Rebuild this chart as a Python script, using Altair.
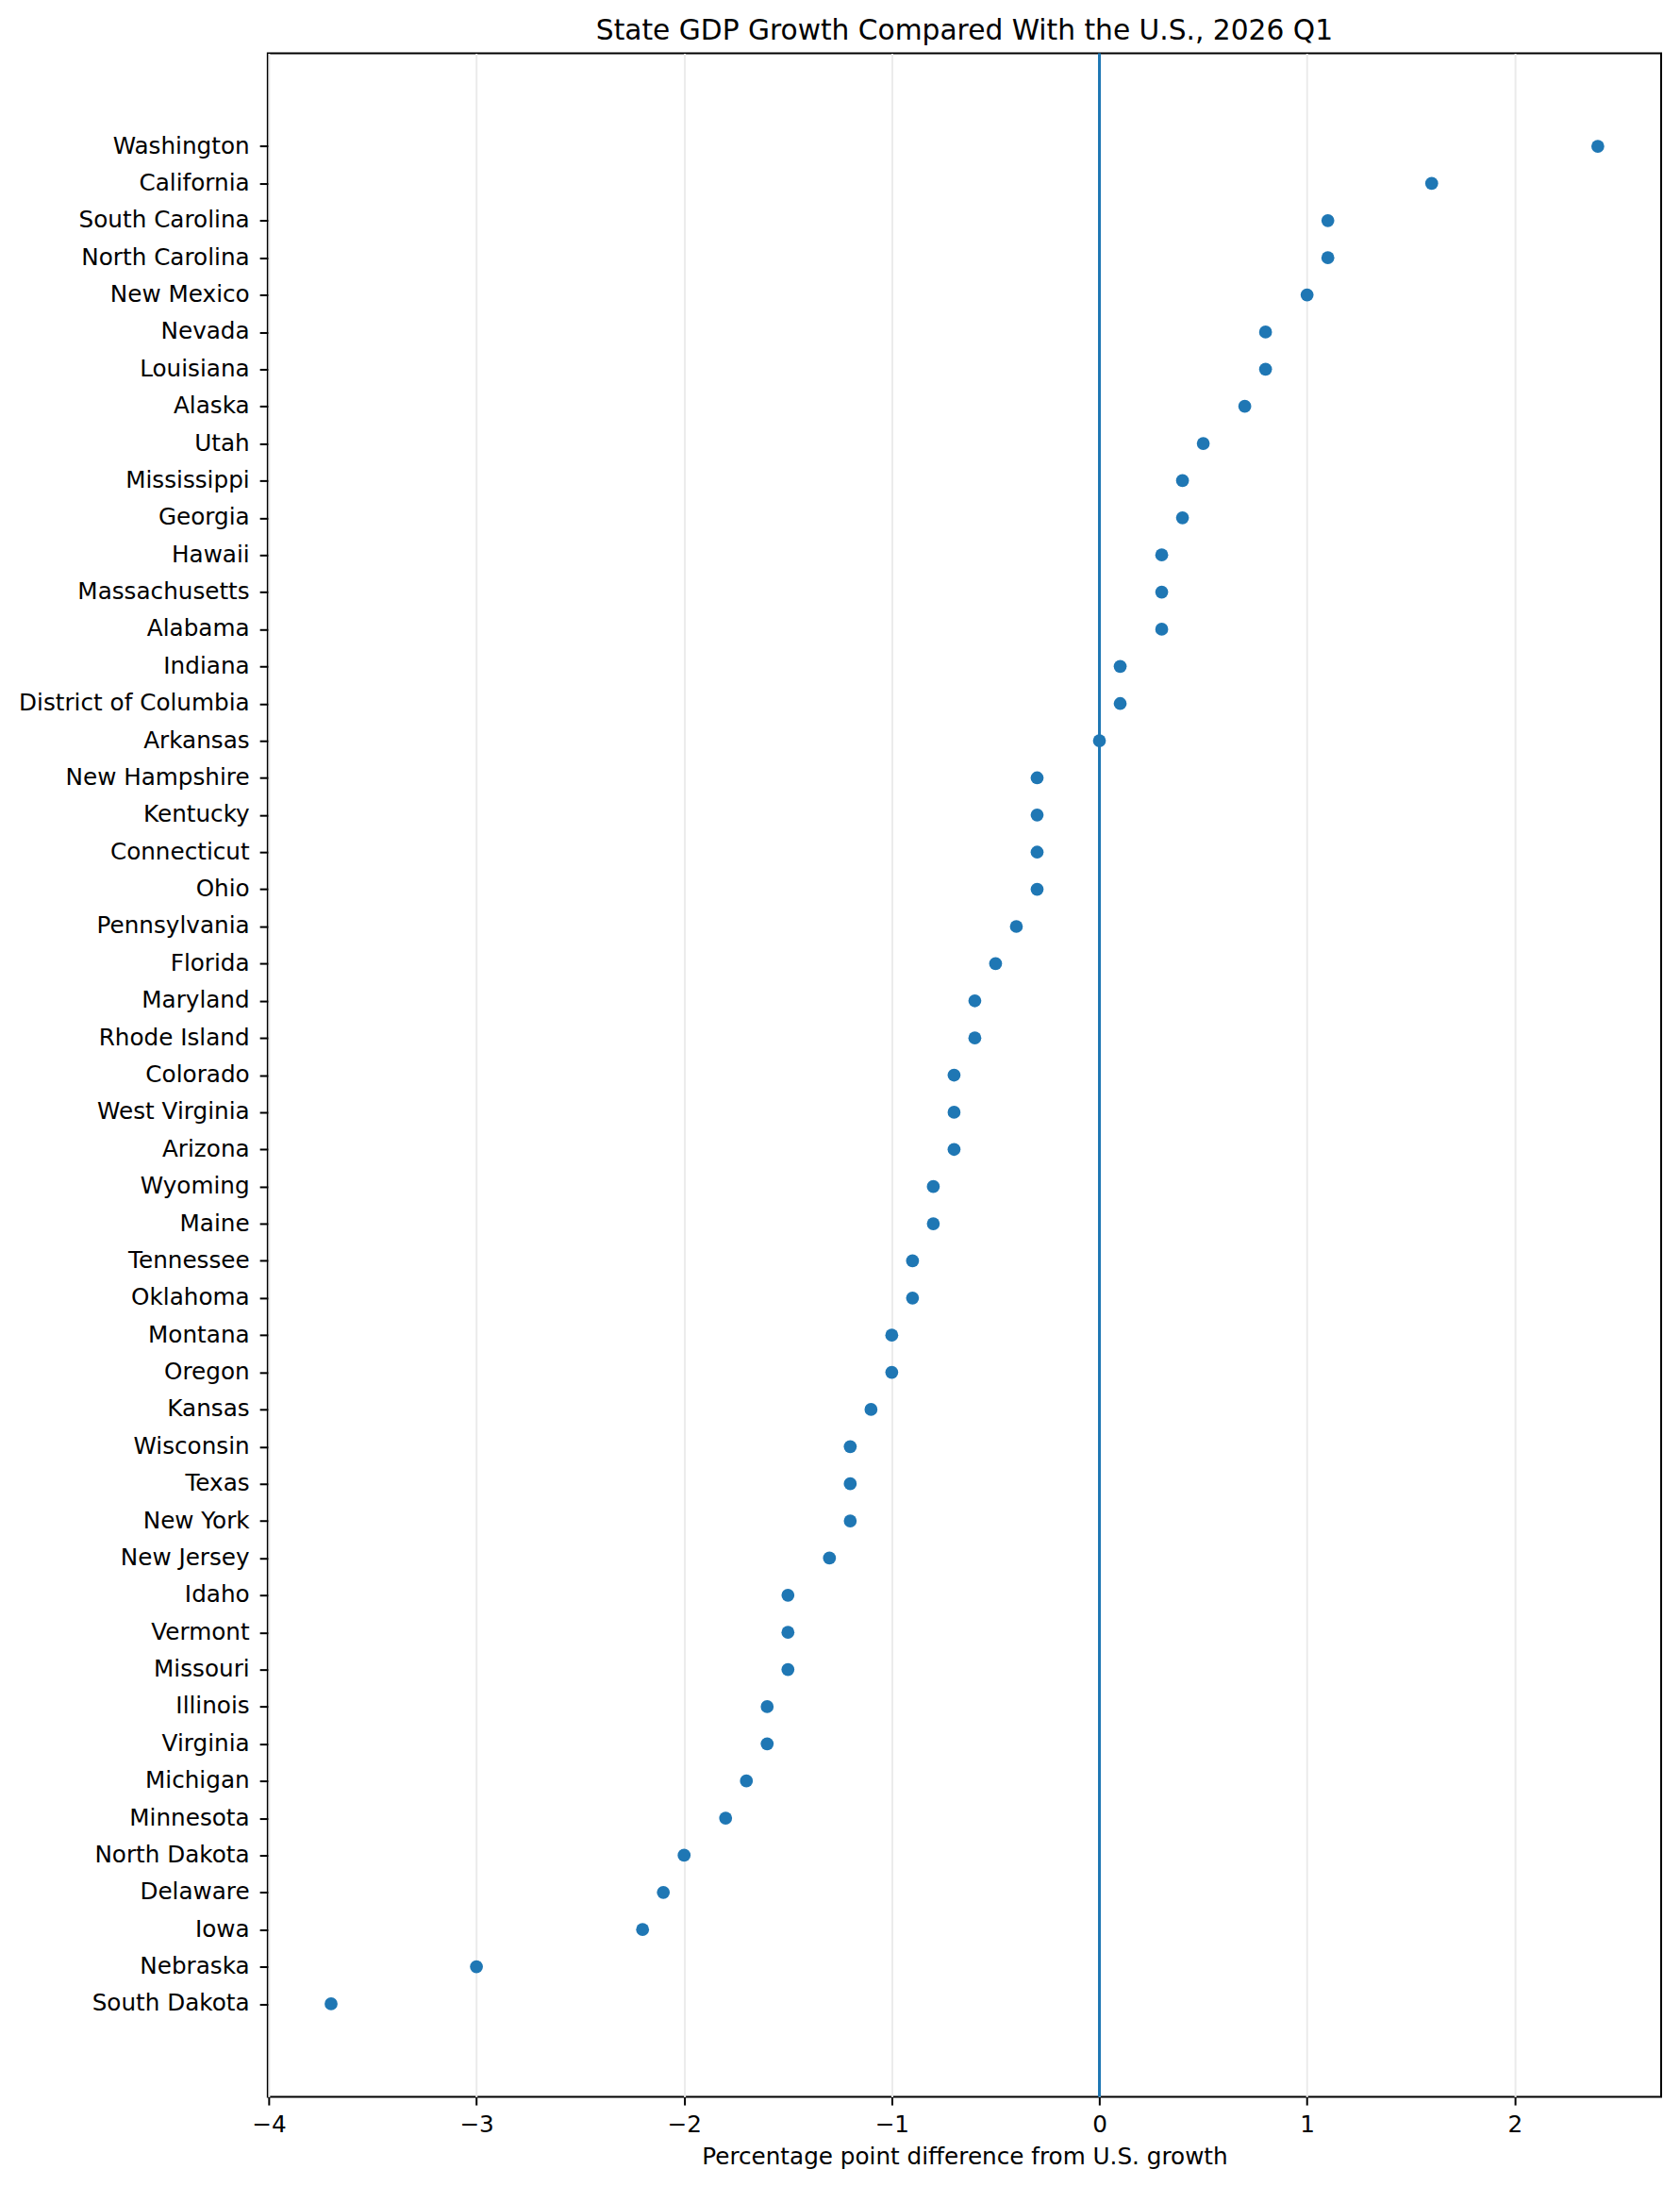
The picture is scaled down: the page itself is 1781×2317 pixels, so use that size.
"""Dot chart of state GDP growth relative to the U.S., 2026 Q1."""

import altair as alt
import pandas as pd

states = [
    'Washington', 'California', 'South Carolina', 'North Carolina',
    'New Mexico', 'Nevada', 'Louisiana', 'Alaska', 'Utah', 'Mississippi',
    'Georgia', 'Hawaii', 'Massachusetts', 'Alabama', 'Indiana',
    'District of Columbia', 'Arkansas', 'New Hampshire', 'Kentucky',
    'Connecticut', 'Ohio', 'Pennsylvania', 'Florida', 'Maryland',
    'Rhode Island', 'Colorado', 'West Virginia', 'Arizona', 'Wyoming',
    'Maine', 'Tennessee', 'Oklahoma', 'Montana', 'Oregon', 'Kansas',
    'Wisconsin', 'Texas', 'New York', 'New Jersey', 'Idaho', 'Vermont',
    'Missouri', 'Illinois', 'Virginia', 'Michigan', 'Minnesota',
    'North Dakota', 'Delaware', 'Iowa', 'Nebraska', 'South Dakota',
]
diff = [
    2.4, 1.6, 1.1, 1.1,
    1.0, 0.8, 0.8, 0.7, 0.5, 0.4,
    0.4, 0.3, 0.3, 0.3, 0.1,
    0.1, 0.0, -0.3, -0.3,
    -0.3, -0.3, -0.4, -0.5, -0.6,
    -0.6, -0.7, -0.7, -0.7, -0.8,
    -0.8, -0.9, -0.9, -1.0, -1.0, -1.1,
    -1.2, -1.2, -1.2, -1.3, -1.5, -1.5,
    -1.5, -1.6, -1.6, -1.7, -1.8,
    -2.0, -2.1, -2.2, -3.0, -3.7,
]
x_ticks = [-4, -3, -2, -1, 0, 1, 2]

n = len(states)
# matplotlib-style categorical positions: first state on top
df = pd.DataFrame({'state': states, 'diff': diff,
                   'pos': [n - 1 - i for i in range(n)]})

blue = '#1f77b4'
font = 'DejaVu Sans'
W, H = 1478, 2167

x_scale = alt.Scale(domain=[-4.005, 2.705], nice=False, zero=False)
y_scale = alt.Scale(domain=[-2.5, n - 1 + 2.5], nice=False, zero=False)

label_lookup = '[' + ','.join("'" + s + "'" for s in reversed(states)) + ']'

points = alt.Chart(df).mark_point(
    filled=True, size=189, opacity=1, color=blue
).encode(
    x=alt.X('diff:Q', scale=x_scale,
            title='Percentage point difference from U.S. growth',
            axis=alt.Axis(values=x_ticks, format='d',
                          labelExpr="replace(datum.label, '-', '\u2212')",
                          grid=True, gridColor='#ebebeb', gridWidth=2,
                          domain=False, ticks=True, tickSize=8.7,
                          tickWidth=2, tickColor='black',
                          labelPadding=8, labelFontSize=24.7,
                          labelColor='black', labelFont=font,
                          titleFont=font, titleFontSize=24.7,
                          titleFontWeight='normal', titleColor='black',
                          titlePadding=10)),
    y=alt.Y('pos:Q', scale=y_scale, title=None,
            axis=alt.Axis(values=list(range(n)),
                          labelExpr=label_lookup + '[datum.value]',
                          grid=False, domain=False, ticks=True,
                          tickSize=8.7, tickWidth=2, tickColor='black',
                          labelPadding=11, labelFontSize=24.7,
                          labelColor='black', labelFont=font,
                          labelLimit=400, labelOverlap=False)),
)

zero_line = alt.Chart(pd.DataFrame({'x': [0]})).mark_rule(
    color=blue, strokeWidth=3
).encode(x=alt.X('x:Q', scale=x_scale))

title = alt.Chart(pd.DataFrame({
    't': ['State GDP Growth Compared With the U.S., 2026 Q1']
})).mark_text(
    font=font, fontSize=29.7, color='black', align='center',
    baseline='alphabetic'
).encode(text='t:N', x=alt.value(W / 2), y=alt.value(-15))

chart = alt.layer(zero_line, points, title).properties(
    width=W,
    height=H,
    autosize=alt.AutoSizeParams(type='none'),
    padding={'left': 276, 'top': 48, 'right': 12, 'bottom': 86},
).configure_view(
    stroke='black', strokeWidth=2
)

chart.save("out.html", embed_options={"renderer": "svg", "actions": False})
